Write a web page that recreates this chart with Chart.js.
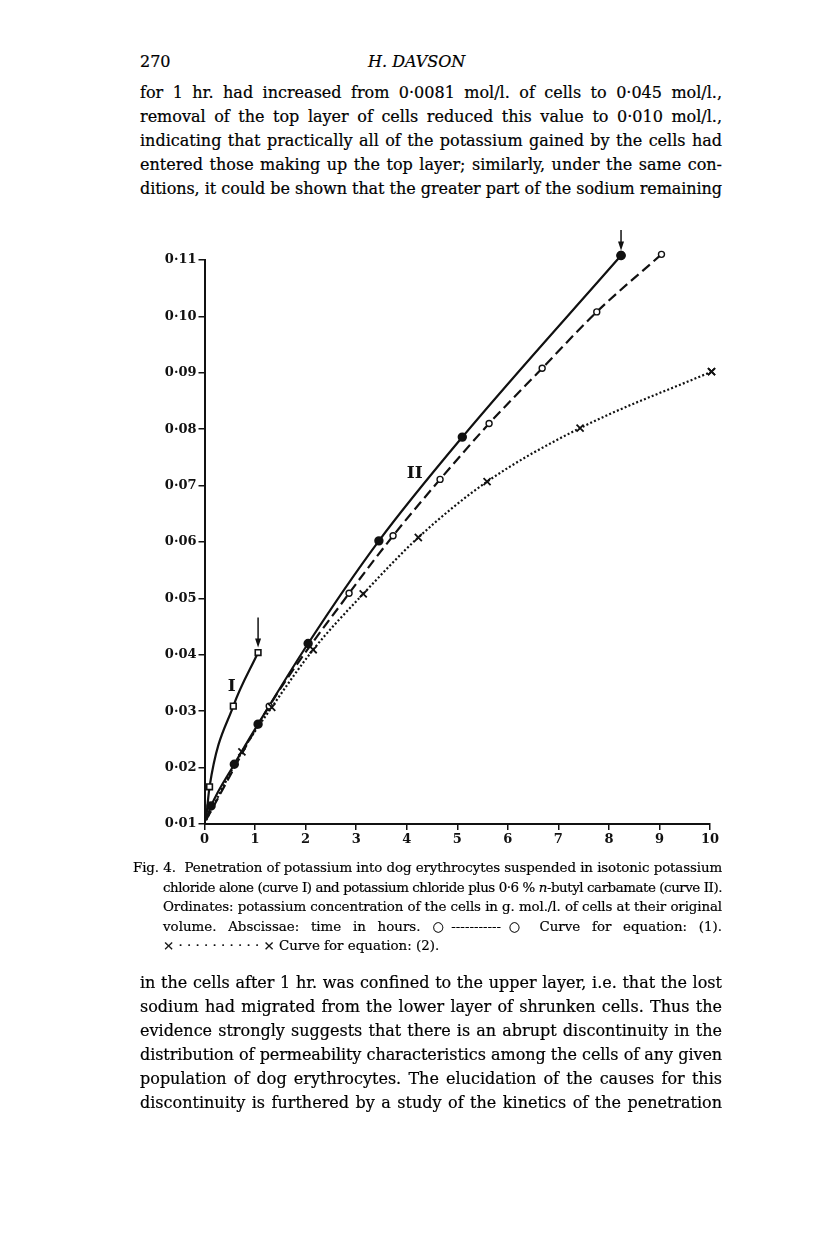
<!DOCTYPE html>
<html>
<head>
<meta charset="utf-8">
<script src="https://cdn.jsdelivr.net/npm/chart.js@4/dist/chart.umd.min.js"></script>
<style>
  html, body { margin: 0; padding: 0; background: #fff; }
  #page { position: relative; width: 816px; height: 1234px; font-family: "DejaVu Serif", serif; color: #000; -webkit-text-stroke: 0.2px #000; }
  .blk { position: absolute; }
  .ln { white-space: nowrap; text-align: justify; text-align-last: justify; }
  .ln.last { text-align-last: left; }
  .body { left: 140px; width: 582px; font-size: 16px; line-height: 24px; }
  .cap { left: 133px; width: 589px; font-size: 13.4px; line-height: 19.5px; }
  .cap .ind { padding-left: 30px; }
  #chartBox { position: absolute; left: 120px; top: 230px; width: 620px; height: 630px; }
</style>
</head>
<body>
<div id="page">
  <div class="blk" style="left:140px; top:50px; width:582px; font-size:16px; line-height:24px;">
    <span>270</span>
    <span style="position:absolute; left:228px; font-style:italic;">H. DAVSON</span>
  </div>

  <div class="blk body" style="top:81px;">
    <div class="ln">for 1 hr. had increased from 0·0081 mol/l. of cells to 0·045 mol/l.,</div>
    <div class="ln">removal of the top layer of cells reduced this value to 0·010 mol/l.,</div>
    <div class="ln">indicating that practically all of the potassium gained by the cells had</div>
    <div class="ln">entered those making up the top layer; similarly, under the same con-</div>
    <div class="ln">ditions, it could be shown that the greater part of the sodium remaining</div>
  </div>

  <div id="chartBox"><canvas id="dataChart" width="620" height="630"></canvas></div>

  <div class="blk cap" style="top:858px;">
    <div class="ln">Fig. 4.&nbsp; Penetration of potassium into dog erythrocytes suspended in isotonic potassium</div>
    <div class="ln ind">chloride alone (curve I) and potassium chloride plus 0·6 % <i>n</i>-butyl carbamate (curve II).</div>
    <div class="ln ind">Ordinates: potassium concentration of the cells in g. mol./l. of cells at their original</div>
    <div class="ln ind">volume. Abscissae: time in hours. ○-----------○ Curve for equation: (1).</div>
    <div class="ln ind last">× · · · · · · · · · · × Curve for equation: (2).</div>
  </div>

  <div class="blk body" style="top:971px;">
    <div class="ln">in the cells after 1 hr. was confined to the upper layer, i.e. that the lost</div>
    <div class="ln">sodium had migrated from the lower layer of shrunken cells. Thus the</div>
    <div class="ln">evidence strongly suggests that there is an abrupt discontinuity in the</div>
    <div class="ln">distribution of permeability characteristics among the cells of any given</div>
    <div class="ln">population of dog erythrocytes. The elucidation of the causes for this</div>
    <div class="ln">discontinuity is furthered by a study of the kinetics of the penetration</div>
  </div>
</div>

<script>
// ============ 1. DỮ LIỆU ============================
// Curve I: KCl alone (squares)
const curveI_t = [0.03, 0.10, 0.57, 1.06];
const curveI_k = [0.0107, 0.0166, 0.0309, 0.0404];

// Curve II: KCl + 0.6% n-butyl carbamate (filled circles)
const curveII_t = [0.03, 0.13, 0.59, 1.06, 2.05, 3.45, 5.10, 8.24];
const curveII_k = [0.0107, 0.0132, 0.0206, 0.0277, 0.0420, 0.0602, 0.0786, 0.1108];

// Curve for equation (1): dashed, open circles
const eq1_t = [0.03, 1.28, 2.86, 3.73, 4.66, 5.63, 6.68, 7.76, 9.04];
const eq1_k = [0.0107, 0.0309, 0.0509, 0.0611, 0.0711, 0.0810, 0.0908, 0.1008, 0.1110];

// Curve for equation (2): dotted, crosses
const eq2_t = [0.03, 0.74, 1.33, 2.15, 3.14, 4.23, 5.59, 7.43, 10.03];
const eq2_k = [0.0107, 0.0228, 0.0307, 0.0409, 0.0508, 0.0608, 0.0707, 0.0802, 0.0902];

const xTicks = [0, 1, 2, 3, 4, 5, 6, 7, 8, 9, 10];
const yTicks = [0.01, 0.02, 0.03, 0.04, 0.05, 0.06, 0.07, 0.08, 0.09, 0.10, 0.11];

// nhãn đường cong (toạ độ theo đơn vị dữ liệu)
const curveLabels = [
  { text: "I", t: 0.54, k: 0.0343, size: 17 },
  { text: "II", t: 4.16, k: 0.0722, size: 17 }
];

function toPoints(ts, ks) {
  return ts.map((t, i) => ({ x: t, y: ks[i] }));
}
// điểm đầu (gốc) không có ký hiệu
function radii(n, r) {
  return Array.from({ length: n }, (_, i) => (i === 0 ? 0 : r));
}

// ============ 2. PLUGIN: MŨI TÊN + NHÃN I / II ==============
const extrasPlugin = {
  id: "extras",
  afterDatasetsDraw(chart) {
    const ctx = chart.ctx;
    const xs = chart.scales.x, ys = chart.scales.y;
    const area = chart.chartArea;

    // vẽ lại các điểm nằm ngoài vùng biểu đồ (Chart.js bỏ qua chúng)
    chart.data.datasets.forEach((ds, i) => {
      chart.getDatasetMeta(i).data.forEach(pt => {
        if (pt.x > area.right || pt.y < area.top) pt.draw(ctx);
      });
    });

    ctx.save();
    ctx.strokeStyle = "#111";
    ctx.fillStyle = "#111";
    ctx.lineWidth = 1.5;

    // mũi tên chỉ vào điểm cuối của curve I và curve II
    [[curveI_t, curveI_k], [curveII_t, curveII_k]].forEach(([ts, ks]) => {
      const px = xs.getPixelForValue(ts[ts.length - 1]);
      const py = ys.getPixelForValue(ks[ks.length - 1]);
      const tip = py - 5;
      ctx.beginPath();
      ctx.moveTo(px, tip - 30);
      ctx.lineTo(px, tip - 4);
      ctx.stroke();
      ctx.beginPath();
      ctx.moveTo(px, tip);
      ctx.lineTo(px - 3, tip - 9);
      ctx.lineTo(px + 3, tip - 9);
      ctx.closePath();
      ctx.fill();
    });

    ctx.textAlign = "center";
    ctx.textBaseline = "middle";
    curveLabels.forEach(l => {
      ctx.font = "bold " + l.size + "px 'DejaVu Serif', serif";
      ctx.fillText(l.text, xs.getPixelForValue(l.t), ys.getPixelForValue(l.k));
    });
    ctx.restore();
  }
};

// ============ 3. BIỂU ĐỒ ==============
let myChart;

function initChart() {
  const canvas = document.getElementById("dataChart");
  const ctx = canvas.getContext("2d");
  const tickFont = { family: "'DejaVu Serif', serif", size: 13, weight: "bold" };

  myChart = new Chart(ctx, {
    type: "line",
    data: {
      datasets: [
        {
          label: "Curve for equation (2)",
          data: toPoints(eq2_t, eq2_k),
          borderColor: "#111",
          borderWidth: 2.2,
          borderDash: [2, 2.2],
          pointStyle: "crossRot",
          pointRadius: radii(eq2_t.length, 5),
          pointBorderWidth: 1.8,
          pointBorderColor: "#111",
          cubicInterpolationMode: "monotone",
          clip: false,
          fill: false
        },
        {
          label: "Curve for equation (1)",
          data: toPoints(eq1_t, eq1_k),
          borderColor: "#111",
          borderWidth: 2.2,
          borderDash: [10, 5],
          pointStyle: "circle",
          pointRadius: radii(eq1_t.length, 3),
          pointBorderWidth: 1.4,
          pointBackgroundColor: "#fff",
          pointBorderColor: "#111",
          cubicInterpolationMode: "monotone",
          clip: false,
          fill: false
        },
        {
          label: "Curve II",
          data: toPoints(curveII_t, curveII_k),
          borderColor: "#111",
          borderWidth: 2.2,
          pointStyle: "circle",
          pointRadius: radii(curveII_t.length, 3.6),
          pointBackgroundColor: "#111",
          pointBorderColor: "#111",
          cubicInterpolationMode: "monotone",
          clip: false,
          fill: false
        },
        {
          label: "Curve I",
          data: toPoints(curveI_t, curveI_k),
          borderColor: "#111",
          borderWidth: 2.2,
          pointStyle: "rect",
          pointRadius: radii(curveI_t.length, 4),
          pointBorderWidth: 1.6,
          pointBackgroundColor: "#fff",
          pointBorderColor: "#111",
          cubicInterpolationMode: "monotone",
          clip: false,
          fill: false
        }
      ]
    },
    options: {
      responsive: false,
      animation: false,
      layout: { padding: { top: 30, right: 30, left: 0, bottom: 0 } },
      plugins: { legend: { display: false }, tooltip: { enabled: false } },
      scales: {
        x: {
          type: "linear",
          min: 0,
          max: 10,
          afterBuildTicks: s => { s.ticks = xTicks.map(v => ({ value: v })); },
          afterFit: s => { s.height = 36; },
          border: { display: true, color: "#111", width: 2 },
          grid: { drawOnChartArea: false, drawTicks: true, tickLength: 6, color: "#111", lineWidth: 1.5 },
          ticks: { color: "#111", font: tickFont, padding: 2, maxRotation: 0 }
        },
        y: {
          type: "linear",
          min: 0.01,
          max: 0.11,
          afterBuildTicks: s => { s.ticks = yTicks.map(v => ({ value: v })); },
          afterFit: s => { s.width = 84.5; },
          border: { display: true, color: "#111", width: 2 },
          grid: { drawOnChartArea: false, drawTicks: true, tickLength: 6, color: "#111", lineWidth: 1.5 },
          ticks: {
            color: "#111",
            font: tickFont,
            padding: 2,
            callback: v => v.toFixed(2).replace(".", "·")
          }
        }
      }
    },
    plugins: [extrasPlugin]
  });
}

// ============ 4. CĂN DÒNG CHỮ (co lại nếu dòng quá dài) ==============
function fitLines() {
  document.querySelectorAll(".ln").forEach(el => {
    const over = el.scrollWidth - el.clientWidth;
    if (over > 0) {
      const n = el.textContent.length;
      el.style.letterSpacing = (-(over + 2) / n).toFixed(3) + "px";
    }
  });
}

document.addEventListener("DOMContentLoaded", () => {
  fitLines();
  initChart();
});
</script>
</body>
</html>
